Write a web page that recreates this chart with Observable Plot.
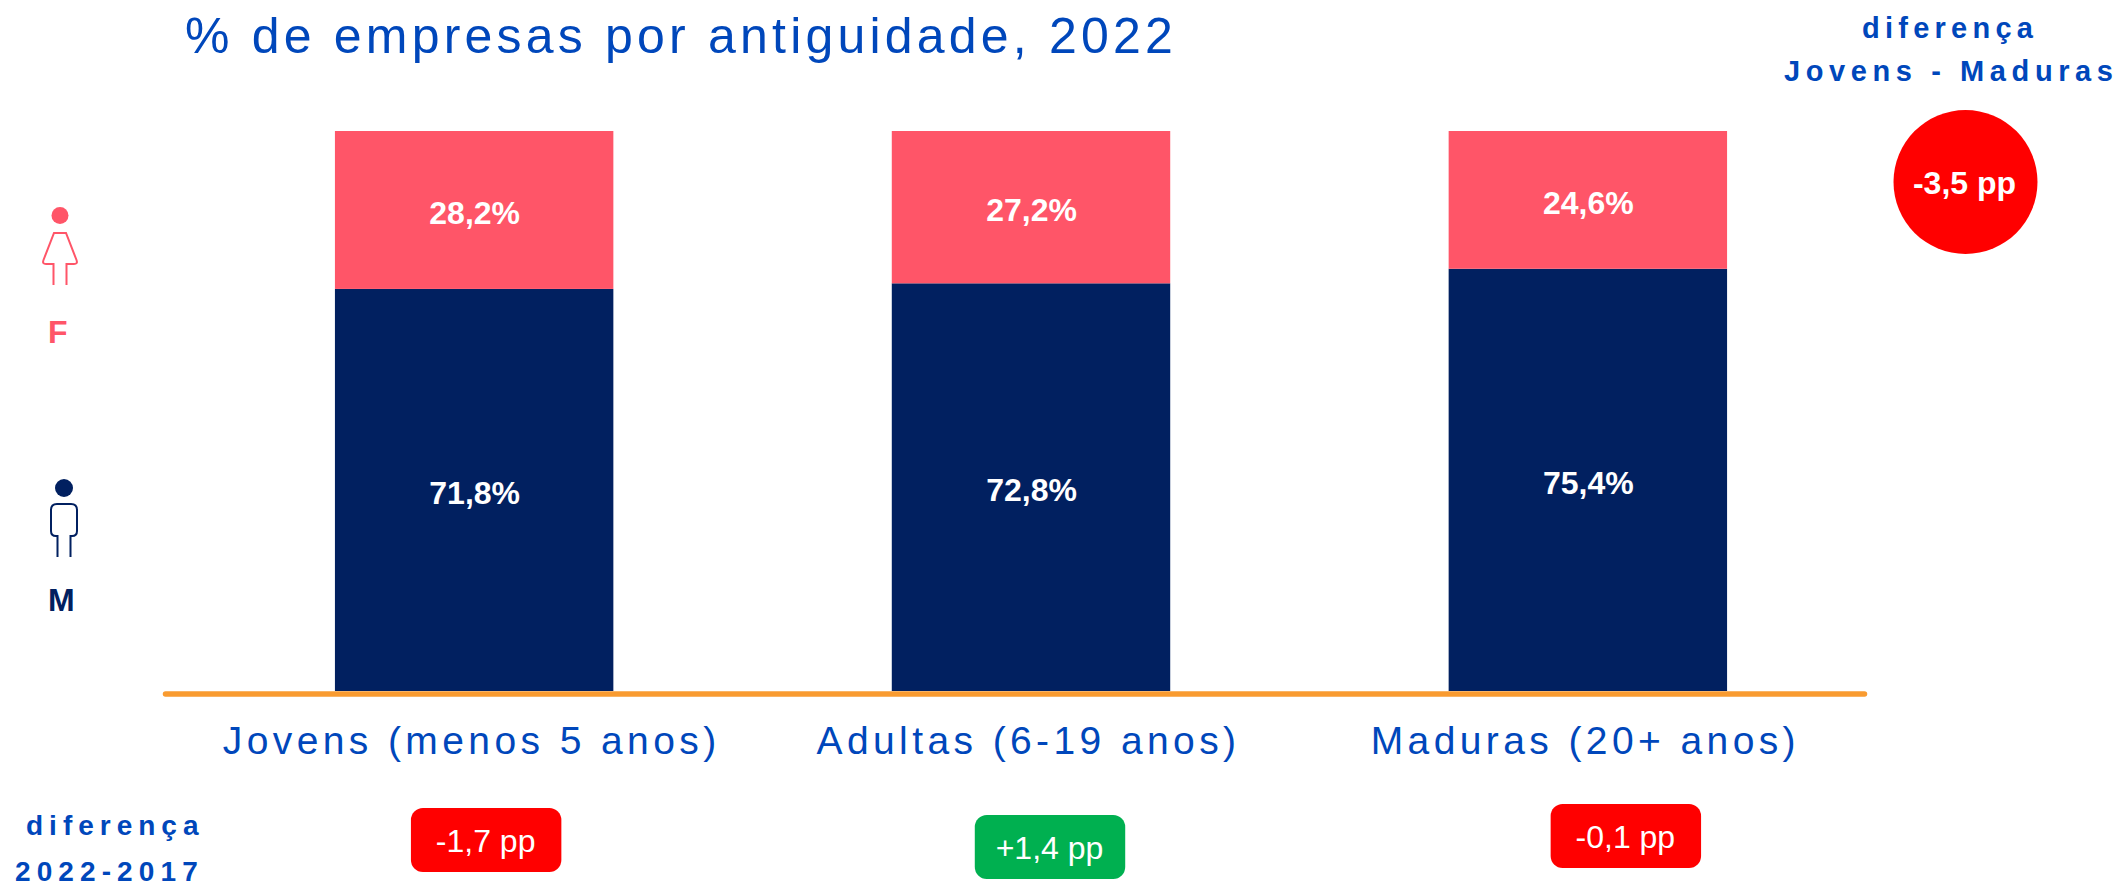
<!DOCTYPE html>
<html lang="pt">
<head>
<meta charset="utf-8">
<script src="https://cdn.jsdelivr.net/npm/d3@7"></script>
<script src="https://cdn.jsdelivr.net/npm/@observablehq/plot@0.6"></script>
<style>
html,body{margin:0;padding:0;background:#fff;overflow:hidden}
#stage{position:relative;width:2119px;height:884px;font-family:"Liberation Sans",Arial,sans-serif}
#stage svg{position:absolute;left:0;top:0}
.lab{position:absolute;white-space:pre;color:#0047bb;line-height:1;transform-origin:0 0}
g[aria-label="x-axis tick label"]{letter-spacing:4.4px}
</style>
</head>
<body>
<div id="stage"></div>
<script>
const categorias = ["Jovens (menos 5 anos)", "Adultas (6-19 anos)", "Maduras (20+ anos)"];
const masculino = [71.8, 72.8, 75.4];
const feminino = [28.2, 27.2, 24.6];
const diferenca2017 = [-1.7, 1.4, -0.1];
const diferencaJM = -3.5;
const sexos = ["M", "F"];

const navy = "#012060", pink = "#ff5568", blue = "#0047bb", orange = "#f99b30", red = "#ff0000", green = "#00b050";
const num = (v, d = 1) => v.toFixed(d).replace(".", ",");
const signed = v => (v > 0 ? "+" : "") + num(v) + " pp";

const rows = categorias.flatMap((c, i) => [
  {cat: c, sexo: "M", valor: masculino[i]},
  {cat: c, sexo: "F", valor: feminino[i]}
]);
const badges = categorias.map((c, i) => ({cat: c, v: diferenca2017[i], i}));

// layout in pixels of the page
const W = 2119, H = 884, top0 = 131, base = 691;
const yAt = px => (base - px) / (base - top0) * 100;
const badgeDx = [12, 19, 38], badgeTop = [808, 815, 804], badgeH = 64;

const badgeMarks = badges.flatMap(b => [
  Plot.barY([b], {x: "cat", y1: () => yAt(badgeTop[b.i] + badgeH), y2: () => yAt(badgeTop[b.i]),
    fill: d => d.v > 0 ? green : red, insetLeft: 64, insetRight: 64, rx: 12, dx: badgeDx[b.i]}),
  Plot.text([b], {x: "cat", y: () => yAt(badgeTop[b.i] + badgeH / 2), text: d => signed(d.v),
    fill: "white", fontSize: 32, dx: badgeDx[b.i] - 1, dy: 1, lineAnchor: "middle"})
]);

const chart = Plot.plot({
  width: W, height: H,
  marginTop: top0, marginBottom: H - base, marginLeft: 56.5, marginRight: 113.5,
  style: {fontFamily: '"Liberation Sans",Arial,sans-serif', background: "transparent"},
  x: {domain: categorias, padding: 0.5, round: false, label: null},
  y: {domain: [0, 100], axis: null},
  color: {domain: sexos, range: [navy, pink]},
  marks: [
    Plot.barY(rows, Plot.stackY({x: "cat", y: "valor", fill: "sexo", order: sexos})),
    Plot.ruleY([0], {stroke: orange, strokeWidth: 5.5, strokeLinecap: "round", insetLeft: 109, insetRight: 141, dy: 2.5}),
    Plot.text(rows, Plot.stackY({x: "cat", y: "valor", z: "sexo", order: sexos, text: d => num(d.valor) + "%",
      fill: "white", fontSize: 32, fontWeight: 700, dy: 3})),
    Plot.axisX({tickSize: 0, tickPadding: 35, fontSize: 39, color: blue, dx: -3, label: null}),
    ...badgeMarks,
    Plot.dot([diferencaJM], {frameAnchor: "top-right", r: 72, fill: red, dx: -40.5, dy: 50.5}),
    Plot.text([diferencaJM], {frameAnchor: "top-right", textAnchor: "middle", lineAnchor: "middle",
      text: d => signed(d), fill: "white", fontSize: 32, fontWeight: 700, dx: -41.5, dy: 52})
  ]
});
const stage = document.getElementById("stage");
stage.appendChild(chart);

function label(text, css) {
  const d = document.createElement("div");
  d.className = "lab"; d.textContent = text;
  Object.assign(d.style, css);
  stage.appendChild(d);
}
label("% de empresas por antiguidade, 2022", {left: "185px", top: "11px", fontSize: "50px", letterSpacing: "4.2px"});
label("diferença", {left: "1862px", top: "14px", fontSize: "29px", fontWeight: "700", letterSpacing: "5.25px"});
label("Jovens - Maduras", {left: "1784px", top: "57px", fontSize: "29px", fontWeight: "700", letterSpacing: "5.6px"});
label("diferença", {left: "26px", top: "812px", fontSize: "28px", fontWeight: "700", letterSpacing: "6px"});
label("2022-2017", {left: "15px", top: "858px", fontSize: "28px", fontWeight: "700", letterSpacing: "6.1px"});
label("F", {left: "48px", top: "316px", fontSize: "32px", fontWeight: "700", color: pink});
label("M", {left: "48px", top: "584px", fontSize: "32px", fontWeight: "700", color: navy});

const icons = document.createElementNS("http://www.w3.org/2000/svg", "svg");
icons.setAttribute("width", 120); icons.setAttribute("height", 600);
icons.innerHTML = `
<circle cx="60" cy="215.5" r="8.5" fill="${pink}"/>
<path d="M53.5 285V264H46Q42 264 43.5 260L54 233H66L76.5 260Q78 264 74 264H66.5V285" fill="none" stroke="${pink}" stroke-width="2"/>
<circle cx="64" cy="488" r="9" fill="${navy}"/>
<path d="M57.5 557V536H56Q51 536 51 531V510Q51 504 57 504H71Q77 504 77 510V531Q77 536 72 536H70.5V557" fill="none" stroke="${navy}" stroke-width="2"/>`;
stage.appendChild(icons);
</script>
</body>
</html>
